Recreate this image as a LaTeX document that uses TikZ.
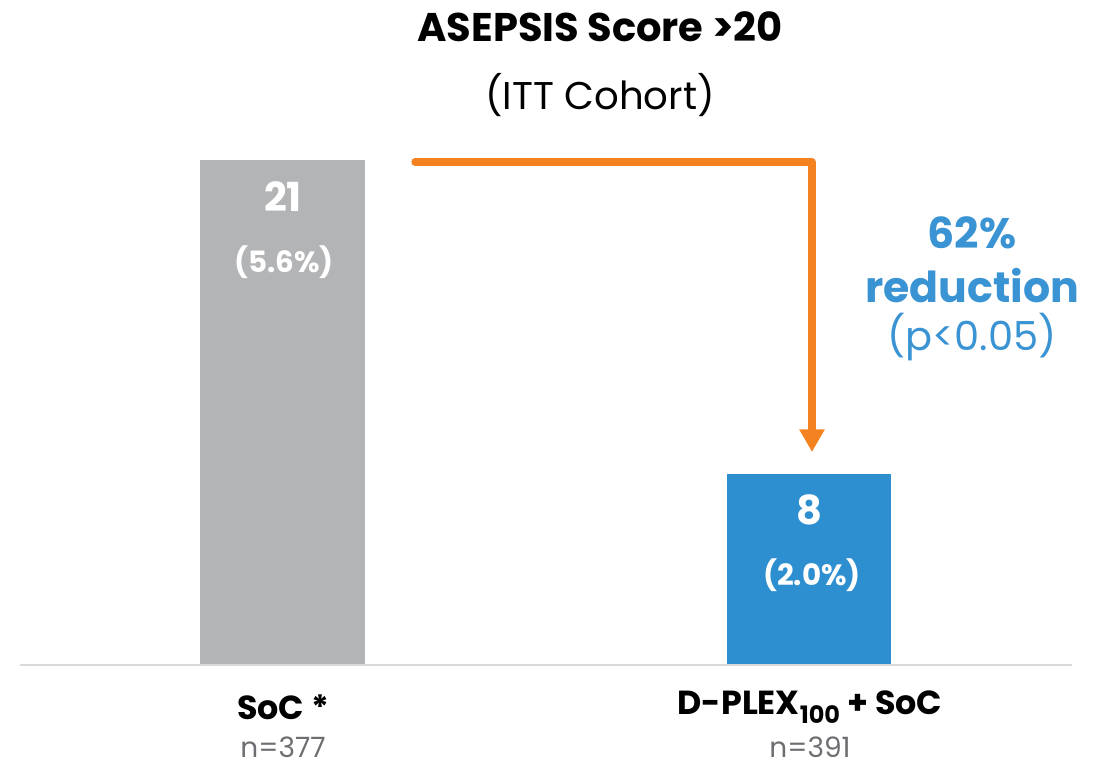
\documentclass[tikz,border=0pt]{standalone}
\usepackage{fontspec}
\setmainfont{Poppins}
\usetikzlibrary{positioning,arrows.meta}
\definecolor{socgray}{HTML}{B3B4B6}
\definecolor{dplexblue}{HTML}{2E8FD0}
\definecolor{redblue}{HTML}{3A93D3}
\definecolor{arroworange}{HTML}{F58220}
\definecolor{ngray}{HTML}{6D6E71}
\tikzset{
  barnum/.style={text=white, font=\bfseries\fontsize{30}{32}\selectfont},
  barpct/.style={text=white, font=\bfseries\fontsize{22}{24}\selectfont},
  grouplabel/.style={font=\bfseries\fontsize{25}{27}\selectfont},
  countlabel/.style={text=ngray, inner sep=0pt, font=\fontsize{21}{23}\selectfont},
  redlabel/.style={text=redblue, font=\bfseries\fontsize{32}{34}\selectfont},
}
\begin{document}
\begin{tikzpicture}[x=0.75pt, y=-0.75pt]
		\useasboundingbox (0,0) rectangle (1106,767);
		
		\node(title) at (600,27) {\bfseries\fontsize{30}{32}\selectfont ASEPSIS Score >20};
		\node(cohort) at (600,95) {\fontsize{29}{31}\selectfont (ITT Cohort)};
		
		% bars
		\fill[socgray] (200,160) rectangle (365,665);
		\fill[dplexblue] (727,474) rectangle (891,665);
		\draw[black!15, line width=1.5pt] (20,665) -- (1072,665);
		
		\node(soc n) [barnum] at (283,197) {21};
		\node(soc p) [barpct] at (284,262) {(5.6\%)};
		\node(dp n) [barnum] at (809,510) {8};
		\node(dp p) [barpct] at (812,575) {(2.0\%)};
		
		% reduction arrow
		\coordinate(a0) at (415,162);
		\coordinate(a1) at (812,452);
		\draw[arroworange, line width=5.5pt, line cap=round, line join=round,
		      -{Triangle[length=17pt, width=18pt, line cap=butt]}] (a0) -| (a1);
		
		\node(pct) [redlabel] at (972,233) {62\%};
		\node(red) [redlabel] at (972,286) {reduction};
		\node(pval) [text=redblue, font=\fontsize{30}{32}\selectfont] at (972,337) {(p<0.05)};
		
		% group labels
		\node(soc) [grouplabel] at (283,707) {SoC *};
		\node(soc count) [countlabel] at (283,747) {n=377};
		\node(dp) [grouplabel] at (810,707) {D-PLEX\raisebox{-0.45ex}{\fontsize{18}{19}\selectfont 100} + SoC};
		\node(dp count) [countlabel] at (810,747) {n=391};
		\end{tikzpicture}
\end{document}
